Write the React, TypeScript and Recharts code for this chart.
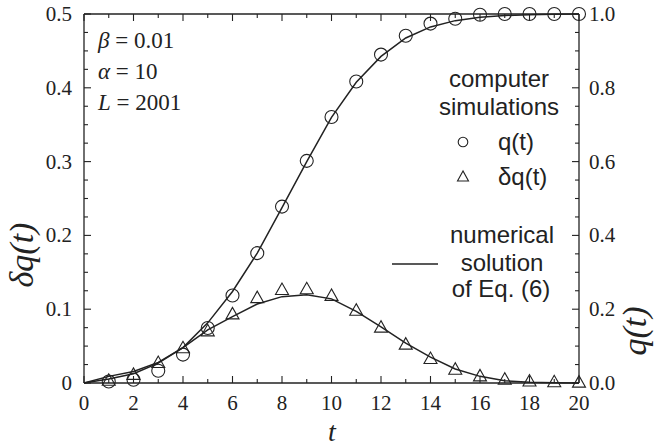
import React from "react";
import {
  ComposedChart,
  Line,
  Scatter,
  XAxis,
  YAxis,
} from "recharts";

// t = 0..20, numerical solution (lines)
const times = [0, 1, 2, 3, 4, 5, 6, 7, 8, 9, 10, 11, 12, 13, 14, 15, 16, 17, 18, 19, 20];
const qNumerical = [0, 0.011, 0.025, 0.054, 0.096, 0.163, 0.248, 0.352, 0.475, 0.6, 0.72, 0.815, 0.885, 0.935, 0.965, 0.982, 0.991, 0.996, 0.998, 0.999, 1.0];
const dqNumerical = [0, 0.009, 0.0157, 0.028, 0.048, 0.072, 0.09, 0.107, 0.117, 0.1197, 0.114, 0.097, 0.076, 0.054, 0.035, 0.019, 0.009, 0.003, 0.001, 0.0003, 0];

// t = 1..20, computer simulations (markers)
const simTimes = [1, 2, 3, 4, 5, 6, 7, 8, 9, 10, 11, 12, 13, 14, 15, 16, 17, 18, 19, 20];
const qSimulated = [0.004, 0.009, 0.033, 0.077, 0.149, 0.237, 0.352, 0.478, 0.602, 0.721, 0.817, 0.89, 0.941, 0.974, 0.987, 0.998, 1.0, 1.0, 1.0, 1.0];
const dqSimulated = [0.003, 0.011, 0.027, 0.047, 0.07, 0.093, 0.115, 0.126, 0.127, 0.118, 0.098, 0.075, 0.052, 0.0325, 0.018, 0.009, 0.0045, 0.002, 0.001, 0.0005];

// ticks
const xTicks = [0, 1, 2, 3, 4, 5, 6, 7, 8, 9, 10, 11, 12, 13, 14, 15, 16, 17, 18, 19, 20];
const xMajorTicks = [0, 2, 4, 6, 8, 10, 12, 14, 16, 18, 20];
const leftTicks = [0, 0.025, 0.05, 0.075, 0.1, 0.125, 0.15, 0.175, 0.2, 0.225, 0.25, 0.275, 0.3, 0.325, 0.35, 0.375, 0.4, 0.425, 0.45, 0.475, 0.5];
const leftMajorTicks = [0, 0.1, 0.2, 0.3, 0.4, 0.5];
const leftTickLabels = ["0", "0.1", "0.2", "0.3", "0.4", "0.5"];
const rightTicks = [0, 0.05, 0.1, 0.15, 0.2, 0.25, 0.3, 0.35, 0.4, 0.45, 0.5, 0.55, 0.6, 0.65, 0.7, 0.75, 0.8, 0.85, 0.9, 0.95, 1.0];
const rightMajorTicks = [0, 0.2, 0.4, 0.6, 0.8, 1.0];
const rightTickLabels = ["0.0", "0.2", "0.4", "0.6", "0.8", "1.0"];

const lineRows = times.map((t, i) => ({ t, q: qNumerical[i], dq: dqNumerical[i] }));
const qRows = simTimes.map((t, i) => ({ t, q: qSimulated[i] }));
const dqRows = simTimes.map((t, i) => ({ t, dq: dqSimulated[i] }));

const INK = "#222";
const serif = { fontFamily: "'Liberation Serif', 'DejaVu Serif', serif" };
const sans = { fontFamily: "'Liberation Sans', Arial, sans-serif" };
const TICK_SIZE = 21;

const findLabel = (v: number, majors: number[], labels: string[]) => {
  const i = majors.findIndex((m) => Math.abs(m - v) < 1e-9);
  return i >= 0 ? labels[i] : null;
};

const BottomTick = (props: any) => {
  const { x, y, payload } = props;
  const major = xMajorTicks.includes(payload.value);
  return (
    <g>
      <line x1={x} x2={x} y1={y} y2={y - (major ? 7 : 4)} stroke={INK} strokeWidth={1.1} />
      {major && (
        <text x={x} y={y + 27} textAnchor="middle" style={serif} fontSize={TICK_SIZE} fill={INK}>
          {payload.value}
        </text>
      )}
    </g>
  );
};

const TopTick = (props: any) => {
  const { x, y, payload } = props;
  const major = xMajorTicks.includes(payload.value);
  return <line x1={x} x2={x} y1={y} y2={y + (major ? 7 : 4)} stroke={INK} strokeWidth={1.1} />;
};

const LeftTick = (props: any) => {
  const { x, y, payload } = props;
  const label = findLabel(payload.value, leftMajorTicks, leftTickLabels);
  return (
    <g>
      <line x1={x} x2={x + (label ? 7 : 4)} y1={y} y2={y} stroke={INK} strokeWidth={1.1} />
      {label && (
        <text x={x - 12} y={y + 7} textAnchor="end" style={serif} fontSize={TICK_SIZE} fill={INK}>
          {label}
        </text>
      )}
    </g>
  );
};

const RightTick = (props: any) => {
  const { x, y, payload } = props;
  const label = findLabel(payload.value, rightMajorTicks, rightTickLabels);
  return (
    <g>
      <line x1={x} x2={x - (label ? 7 : 4)} y1={y} y2={y} stroke={INK} strokeWidth={1.1} />
      {label && (
        <text x={x + 10} y={y + 7} textAnchor="start" style={serif} fontSize={TICK_SIZE} fill={INK}>
          {label}
        </text>
      )}
    </g>
  );
};

const CircleMark = (props: any) => {
  const { cx, cy } = props;
  return <circle cx={cx} cy={cy} r={6.5} fill="none" stroke={INK} strokeWidth={1.1} />;
};

const TriangleMark = (props: any) => {
  const { cx, cy } = props;
  return (
    <polygon
      points={`${cx},${cy - 7} ${cx - 6.5},${cy + 4.5} ${cx + 6.5},${cy + 4.5}`}
      fill="none"
      stroke={INK}
      strokeWidth={1.1}
    />
  );
};

export default function App() {
  const axisLine = { stroke: INK, strokeWidth: 1.3 };
  return (
    <div style={{ position: "absolute", left: 0, top: 0, width: 654, height: 446, background: "#fff" }}>
      <ComposedChart width={654} height={446} data={lineRows} margin={{ top: 0, right: 0, bottom: 0, left: 0 }}>
        <XAxis
          dataKey="t"
          type="number"
          domain={[0, 20]}
          ticks={xTicks}
          interval={0}
          height={63}
          tickSize={0}
          tickMargin={0}
          tickLine={false}
          axisLine={axisLine}
          tick={<BottomTick />}
        />
        <XAxis
          xAxisId="top"
          orientation="top"
          dataKey="t"
          type="number"
          domain={[0, 20]}
          ticks={xTicks}
          interval={0}
          height={14}
          tickSize={0}
          tickMargin={0}
          tickLine={false}
          axisLine={axisLine}
          tick={<TopTick />}
        />
        <YAxis
          yAxisId="left"
          type="number"
          domain={[0, 0.5]}
          ticks={leftTicks}
          interval={0}
          width={84}
          tickSize={0}
          tickMargin={0}
          tickLine={false}
          axisLine={axisLine}
          tick={<LeftTick />}
        />
        <YAxis
          yAxisId="right"
          orientation="right"
          type="number"
          domain={[0, 1]}
          ticks={rightTicks}
          interval={0}
          width={75}
          tickSize={0}
          tickMargin={0}
          tickLine={false}
          axisLine={axisLine}
          tick={<RightTick />}
        />
        <Line yAxisId="right" dataKey="q" type="linear" stroke={INK} strokeWidth={1.5} dot={false} isAnimationActive={false} />
        <Line yAxisId="left" dataKey="dq" type="linear" stroke={INK} strokeWidth={1.5} dot={false} isAnimationActive={false} />
        <Scatter yAxisId="right" data={qRows} dataKey="q" shape={<CircleMark />} isAnimationActive={false} />
        <Scatter yAxisId="left" data={dqRows} dataKey="dq" shape={<TriangleMark />} isAnimationActive={false} />
      </ComposedChart>

      <svg
        width={654}
        height={446}
        style={{ position: "absolute", left: 0, top: 0, pointerEvents: "none" }}
      >
        {/* parameters */}
        <g style={serif} fontSize={23} fill={INK}>
          <text x={98} y={48}>
            <tspan fontStyle="italic">β</tspan> = 0.01
          </text>
          <text x={98} y={79}>
            <tspan fontStyle="italic">α</tspan> = 10
          </text>
          <text x={98} y={110}>
            <tspan fontStyle="italic">L</tspan> = 2001
          </text>
        </g>

        {/* legend */}
        <g style={sans} fontSize={24} fill={INK} textAnchor="middle">
          <text x={499} y={87}>computer</text>
          <text x={499} y={115}>simulations</text>
          <text x={498} y={150} textAnchor="start">q(t)</text>
          <text x={498} y={185} textAnchor="start">δq(t)</text>
          <text x={502} y={243}>numerical</text>
          <text x={502} y={271}>solution</text>
          <text x={501} y={297}>of Eq. (6)</text>
        </g>
        <circle cx={463} cy={142} r={4.8} fill="none" stroke={INK} strokeWidth={1.1} />
        <polygon points="463,171 457.5,181 468.5,181" fill="none" stroke={INK} strokeWidth={1.1} />
        <line x1={392} x2={438} y1={264} y2={264} stroke={INK} strokeWidth={1.5} />

        {/* axis titles */}
        <g style={serif} fontStyle="italic" fontSize={34} fill={INK} textAnchor="middle">
          <text transform="translate(33,255) rotate(-90)">δq(t)</text>
          <text transform="translate(646,331) rotate(-90)">q(t)</text>
          <text x={332} y={441} fontSize={28}>t</text>
        </g>
      </svg>
    </div>
  );
}
